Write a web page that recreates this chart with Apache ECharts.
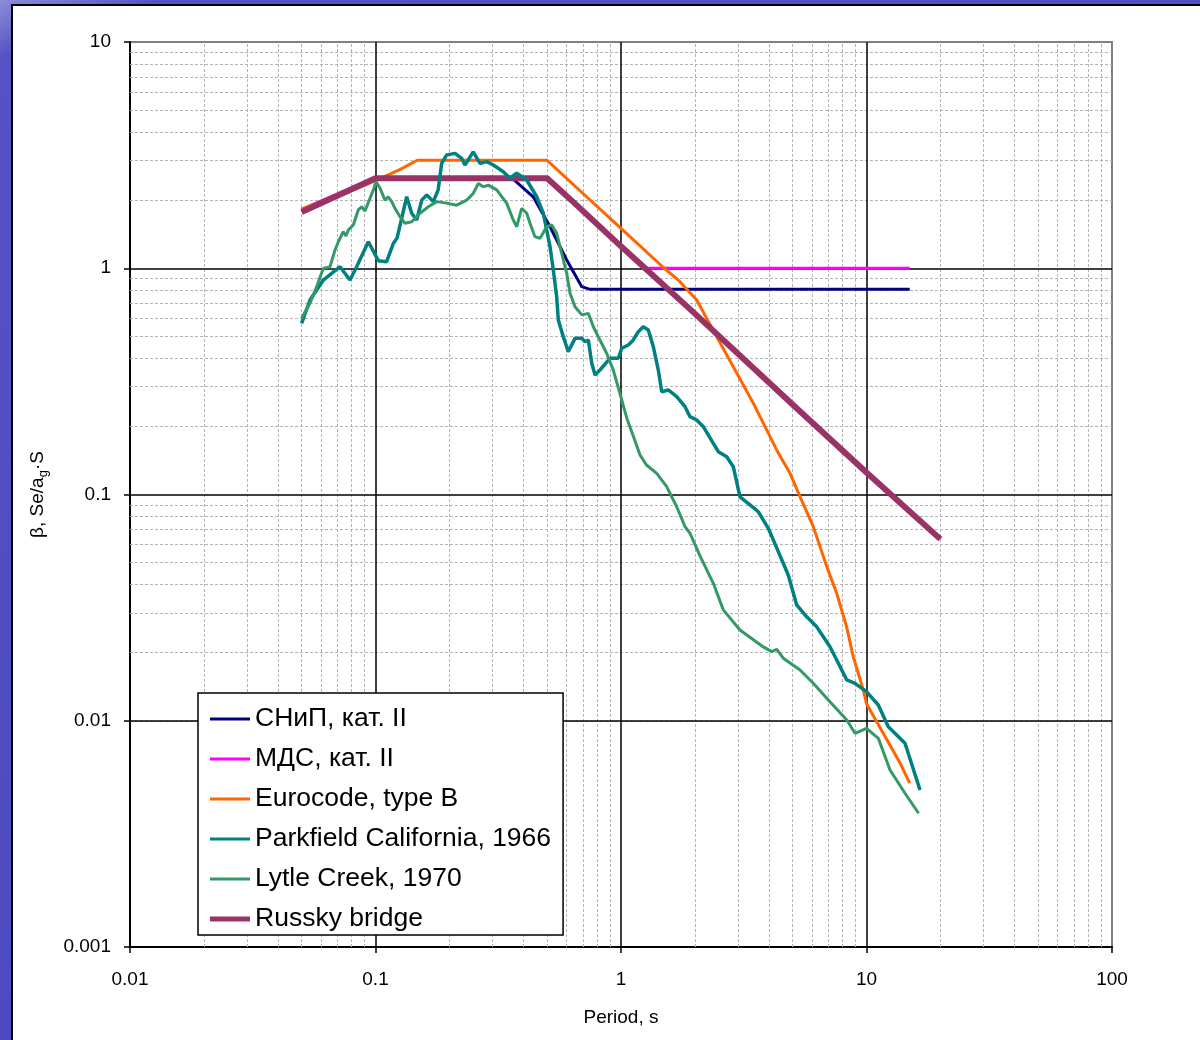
<!DOCTYPE html>
<html>
<head>
<meta charset="utf-8">
<script src="https://cdn.jsdelivr.net/npm/echarts@6/dist/echarts.min.js"></script>
<style>
  html, body { margin: 0; padding: 0; }
  body { width: 1200px; height: 1040px; position: relative; overflow: hidden;
         background: linear-gradient(160deg, #8c8cd8 0%, #5452c4 4%, #4a47c0 100%); }
  #panel { position: absolute; left: 11px; top: 4px; right: 0; bottom: 0;
           background: #fff; border-left: 2px solid #000; border-top: 2px solid #000; }
  #chart { position: absolute; left: 0; top: 0; width: 1200px; height: 1040px; }
</style>
</head>
<body>
<div id="panel"></div>
<div id="chart"></div>
<script>
// period T (s), beta value
const snipData = [[0.1, 2.5], [0.36, 2.5], [0.439, 2.07], [0.514, 1.526], [0.601, 1.088], [0.692, 0.829], [0.748, 0.807], [15, 0.807]];
const mdsData = [[0.05, 1.82], [0.1, 2.52], [0.5, 2.5], [1.25, 1.0], [15, 1.0]];
const eurocodeData = [[0.05, 1.83], [0.075, 2.14], [0.1, 2.44], [0.125, 2.72], [0.148, 3.0], [0.5, 3.0], [0.7, 2.14], [1.0, 1.5],
  [1.5, 1.0], [1.712, 0.887], [2.034, 0.724], [2.454, 0.498], [2.867, 0.367], [3.459, 0.253], [3.92, 0.193], [4.31, 0.157],
  [4.88, 0.124], [5.36, 0.0978], [6.07, 0.0721], [6.89, 0.048], [7.56, 0.0366], [8.3, 0.026], [8.83, 0.0192], [9.7, 0.0137],
  [10.0, 0.0119], [11.7, 0.0088], [13.7, 0.0065], [15.0, 0.0053]];
const parkfieldData = [[0.05, 0.571], [0.0541, 0.724], [0.0613, 0.887], [0.0717, 1.016], [0.0787, 0.887], [0.0838, 1.016],
  [0.0935, 1.31], [0.1027, 1.08], [0.111, 1.069], [0.1182, 1.288], [0.1224, 1.36], [0.134, 2.07], [0.1404, 1.75],
  [0.1472, 1.634], [0.1543, 2.0], [0.1617, 2.11], [0.172, 1.97], [0.18, 2.22], [0.186, 2.91], [0.195, 3.17], [0.2108, 3.22],
  [0.2244, 3.06], [0.2315, 2.86], [0.25, 3.27], [0.2666, 2.91], [0.2838, 2.96], [0.302, 2.86], [0.3316, 2.67], [0.353, 2.5],
  [0.376, 2.63], [0.413, 2.455], [0.4536, 2.07], [0.4826, 1.75], [0.498, 1.476], [0.514, 1.245], [0.53, 0.982], [0.547, 0.749],
  [0.5555, 0.59], [0.582, 0.498], [0.61, 0.428], [0.6495, 0.49], [0.692, 0.49], [0.714, 0.4735], [0.736, 0.482], [0.76, 0.38],
  [0.784, 0.3375], [0.821, 0.355], [0.902, 0.4], [0.975, 0.4], [1.007, 0.443], [1.071, 0.458], [1.122, 0.482], [1.176, 0.524],
  [1.232, 0.5515], [1.292, 0.5335], [1.354, 0.45], [1.419, 0.355], [1.465, 0.2847], [1.558, 0.2897], [1.686, 0.2706],
  [1.823, 0.2443], [1.91, 0.2208], [2.034, 0.2135], [2.164, 0.1994], [2.377, 0.1684], [2.491, 0.1546], [2.695, 0.1469],
  [2.867, 0.1327], [3.052, 0.0975], [3.354, 0.0899], [3.625, 0.0839], [3.981, 0.0709], [4.373, 0.0559], [4.8, 0.0441],
  [5.196, 0.0325], [5.706, 0.0288], [6.27, 0.026], [6.67, 0.02352], [7.1, 0.02125], [7.68, 0.01795], [8.31, 0.01514],
  [8.98, 0.01464], [10.0, 0.01344], [11.17, 0.01174], [12.27, 0.00941], [14.35, 0.00795], [16.52, 0.00494]];
const lytleData = [[0.05, 0.601], [0.0541, 0.70], [0.0576, 0.829], [0.0613, 0.999], [0.0653, 1.016], [0.0684, 1.204],
  [0.0706, 1.31], [0.0739, 1.45], [0.0758, 1.39], [0.0775, 1.476], [0.0812, 1.553], [0.0851, 1.81], [0.0878, 1.87],
  [0.0906, 1.79], [0.095, 2.04], [0.098, 2.22], [0.1005, 2.41], [0.1043, 2.26], [0.1093, 2.0], [0.1127, 2.07], [0.1164, 1.97],
  [0.12, 1.84], [0.1258, 1.69], [0.1319, 1.58], [0.1404, 1.606], [0.1518, 1.75], [0.1641, 1.87], [0.1776, 1.97], [0.195, 1.94],
  [0.2142, 1.9], [0.2353, 2.0], [0.25, 2.14], [0.2622, 2.37], [0.2748, 2.29], [0.288, 2.33], [0.3116, 2.22], [0.3422, 1.94],
  [0.364, 1.634], [0.376, 1.526], [0.394, 1.84], [0.413, 1.75], [0.426, 1.58], [0.446, 1.379], [0.468, 1.357], [0.498, 1.526],
  [0.522, 1.553], [0.547, 1.427], [0.5735, 1.164], [0.601, 0.95], [0.62, 0.775], [0.6495, 0.676], [0.692, 0.622],
  [0.736, 0.632], [0.7715, 0.5515], [0.808, 0.498], [0.874, 0.421], [0.93, 0.355], [0.99, 0.28], [1.055, 0.218],
  [1.122, 0.1814], [1.195, 0.1495], [1.27, 0.135], [1.398, 0.124], [1.535, 0.1083], [1.686, 0.0883], [1.823, 0.0721],
  [1.91, 0.0674], [2.098, 0.0535], [2.377, 0.0405], [2.61, 0.0309], [3.052, 0.0252], [3.8, 0.0212], [4.11, 0.0202],
  [4.31, 0.0207], [4.58, 0.0189], [5.36, 0.01676], [6.07, 0.01464], [6.99, 0.01235], [8.31, 0.01008], [8.98, 0.0088],
  [10.0, 0.00926], [11.17, 0.00836], [12.47, 0.00606], [14.35, 0.00478], [16.3, 0.0039]];
const russkyData = [[0.05, 1.77], [0.1, 2.5], [0.5, 2.5], [0.64, 1.96], [1.0, 1.25], [2.0, 0.63], [5.0, 0.25], [10.0, 0.125], [20.0, 0.0635]];

const seriesNames = ['СНиП, кат. II', 'МДС, кат. II', 'Eurocode, type B', 'Parkfield California, 1966', 'Lytle Creek, 1970', 'Russky bridge'];
const seriesColors = ['#000080', '#ff00ff', '#ff6600', '#008080', '#339966', '#993366'];
const seriesWidths = [3, 3, 3, 3.5, 3, 6];
const seriesZ = [2, 2, 2, 4, 4, 3];
const seriesData = [snipData, mdsData, eurocodeData, parkfieldData, lytleData, russkyData];

const xDecades = [0.01, 0.1, 1, 10];
const yDecades = [0.001, 0.01, 0.1, 1];
const xMajor = [0.1, 1, 10];
const yMajor = [0.01, 0.1, 1];
const minorSteps = [2, 3, 4, 5, 6, 7, 8, 9];

const font = '"Liberation Sans", Arial, sans-serif';
const fmt = v => String(parseFloat(Number(v).toPrecision(6)));

// legend swatches: a bar in a 40x14 box (the two moveTo points fix the box)
const thinIcon = 'path://M0,0M40,14M0,5.5L40,5.5L40,8.5L0,8.5Z';
const thickIcon = 'path://M0,0M40,14M0,4.5L40,4.5L40,9.5L0,9.5Z';

const minorLines = [];
xDecades.forEach(d => minorSteps.forEach(m => minorLines.push({ xAxis: d * m })));
yDecades.forEach(d => minorSteps.forEach(m => minorLines.push({ yAxis: d * m })));
const majorLines = xMajor.map(v => ({ xAxis: v })).concat(yMajor.map(v => ({ yAxis: v })));

const chart = echarts.init(document.getElementById('chart'), null, { renderer: 'canvas' });

// grid lines drawn as markLines under the data (markLine z defaults above series)
const gridSeries = (name, lines, lineStyle) => ({
  name, type: 'line', data: [], z: 1, silent: true,
  markLine: {
    z: 1, silent: true, symbol: ['none', 'none'], label: { show: false }, animation: false,
    lineStyle, data: lines
  }
});

const series = seriesNames.map((name, i) => ({
  name,
  type: 'line',
  data: seriesData[i],
  symbol: 'none',
  showSymbol: false,
  z: seriesZ[i],
  lineStyle: { color: seriesColors[i], width: seriesWidths[i] },
  itemStyle: { color: seriesColors[i] }
}));
series.push(gridSeries('minor grid', minorLines, { color: '#b4b4b4', width: 1, type: [3, 2] }));
series.push(gridSeries('major grid', majorLines, { color: '#000', width: 1.5, type: 'solid' }));

chart.setOption({
  animation: false,
  textStyle: { fontFamily: font },
  grid: {
    left: 130, right: 88, top: 42, bottom: 93,
    show: true, borderColor: '#808080', borderWidth: 2, backgroundColor: 'transparent'
  },
  legend: {
    orient: 'vertical',
    left: 198, top: 693,
    z: 20,
    padding: [11, 12, 1, 12],
    itemWidth: 40, itemHeight: 14, itemGap: 10,
    backgroundColor: '#fff', borderColor: '#000', borderWidth: 1.5,
    data: seriesNames.map((name, i) => ({
      name,
      icon: i === 5 ? thickIcon : thinIcon,
      itemStyle: { color: seriesColors[i], borderWidth: 0 }
    })),
    textStyle: { fontSize: 26.5, lineHeight: 30, color: '#000', fontFamily: font }
  },
  xAxis: {
    type: 'log', logBase: 10, min: 0.01, max: 100,
    name: 'Period, s', nameLocation: 'middle', nameGap: 61,
    nameTextStyle: { fontSize: 19, color: '#000', fontFamily: font },
    axisLine: { lineStyle: { color: '#000', width: 2 } },
    axisTick: { show: true, length: 6, lineStyle: { color: '#000', width: 1.5 } },
    axisLabel: { fontSize: 19, color: '#000', margin: 23, formatter: fmt },
    splitLine: { show: false },
    minorTick: { show: false }, minorSplitLine: { show: false }
  },
  yAxis: {
    type: 'log', logBase: 10, min: 0.001, max: 10,
    name: '{a|β, Se/a}{b|g}{a|·S}', nameLocation: 'middle', nameGap: 80,
    nameTextStyle: {
      color: '#000', fontFamily: font,
      rich: {
        a: { fontSize: 19, lineHeight: 24, color: '#000', fontFamily: font },
        b: { fontSize: 13, lineHeight: 24, verticalAlign: 'bottom', color: '#000', fontFamily: font }
      }
    },
    axisLine: { lineStyle: { color: '#000', width: 2 } },
    axisTick: { show: true, length: 6, lineStyle: { color: '#000', width: 1.5 } },
    axisLabel: { fontSize: 19, color: '#000', margin: 19, formatter: fmt },
    splitLine: { show: false },
    minorTick: { show: false }, minorSplitLine: { show: false }
  },
  series
});
</script>
</body>
</html>
